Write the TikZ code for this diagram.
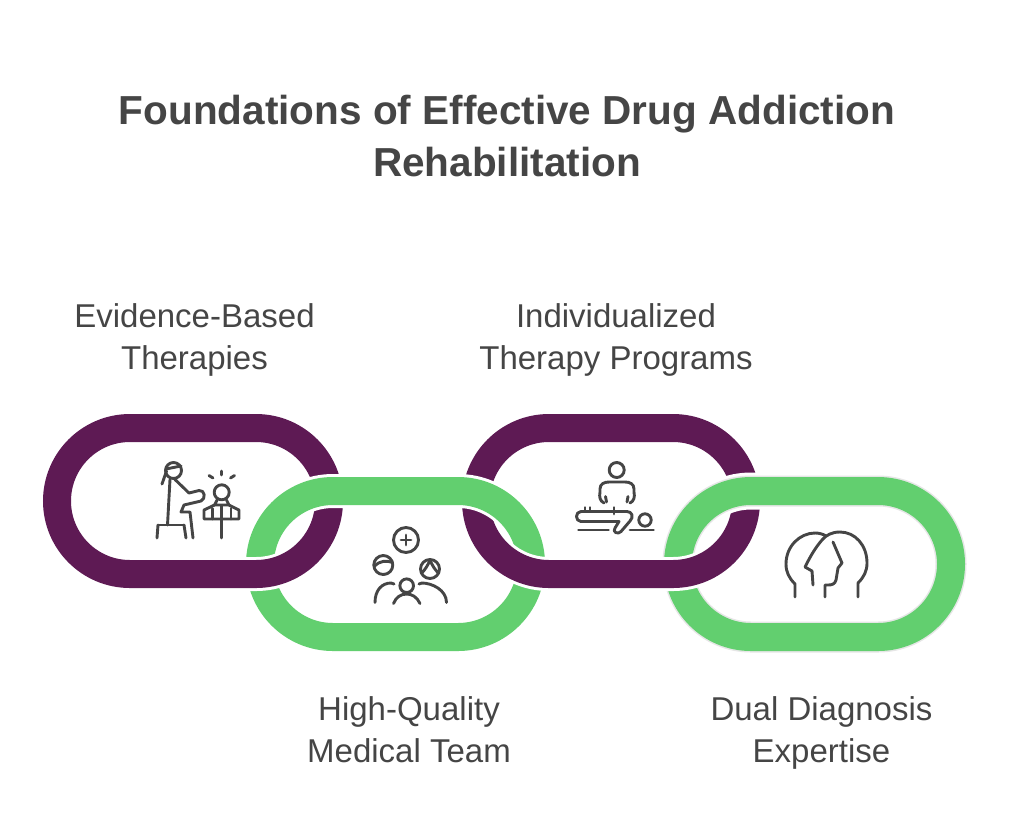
\documentclass[tikz,border=0pt]{standalone}
\usepackage{fontspec}
\setmainfont{Liberation Sans}
\usepackage{tikz}
\usepackage{xcolor}
\definecolor{chain-purple}{HTML}{5E1A54}
\definecolor{chain-green}{HTML}{62CF6F}
\definecolor{ink}{HTML}{454545}
\definecolor{rim}{HTML}{E6E6E6}
\tikzset{
    link-purple/.style = {draw=chain-purple, line width=28pt, rounded corners=73pt},
    link-green/.style = {draw=chain-green, line width=28pt, rounded corners=73pt},
    link-gap/.style = {draw=white, line width=34pt, rounded corners=73pt},
    link-rim/.style = {draw=rim, line width=31pt, rounded corners=73pt},
    icon-line/.style = {draw=ink, line width=2.9pt, line cap=round, line join=round},
    title-text/.style = {anchor=north, inner sep=0pt, align=center, text=ink, font=\fontsize{40.5}{52}\selectfont\bfseries},
    label-text/.style = {anchor=north, inner sep=0pt, align=center, text=ink, font=\fontsize{33}{42}\selectfont},
}

\begin{document}
\begin{tikzpicture}[x=1pt, y=-1pt]
\useasboundingbox (0,0) rectangle (1024,815);

\node[title-text] (title) at (507,95) {Foundations of Effective Drug Addiction\\Rehabilitation};

% chain links, purple first, green over the top bands
\draw[link-purple] (57,428) rectangle (329,574);
\draw[link-purple] (476,428) rectangle (746,574);
\draw[link-gap] (260,491) rectangle (531,637);
\draw[link-green] (260,491) rectangle (531,637);
\draw[link-gap, line width=37pt] (678,491) rectangle (951,637);
\draw[link-rim] (678,491) rectangle (951,637);
\draw[link-green] (678,491) rectangle (951,637);
% purple bottom bands back over the green sides
\begin{scope}
\clip (0,527) rectangle (1024,612);
\draw[link-gap] (57,428) rectangle (329,574);
\draw[link-purple] (57,428) rectangle (329,574);
\draw[link-gap] (476,428) rectangle (746,574);
\draw[link-purple] (476,428) rectangle (746,574);
\end{scope}

% icon: therapist and child
\draw[icon-line] (173.5,470.5) circle (8);
\draw[icon-line] (166,469) -- (181,466);
\draw[icon-line] (166.5,471) -- (162,484);
\draw[icon-line] (170,479.5) -- (167.5,525);
\draw[icon-line] (175,479.5) -- (189,493) -- (199,490.5) .. controls (205,489.5) and (206,499) .. (201,501) -- (184,505) -- (181,512) -- (190,512) -- (193,538);
\draw[icon-line] (158,525) -- (184,525);
\draw[icon-line] (158,525) -- (157,538);
\draw[icon-line] (184,525) -- (186,538);
\draw[icon-line] (221.7,492.3) circle (7.5);
\draw[icon-line] (221.7,471) -- (221.7,475);
\draw[icon-line] (209,475.5) -- (213,478);
\draw[icon-line] (234.5,475.5) -- (230.5,478);
\draw[icon-line] (217,500) -- (214.5,505) -- (229,505) -- (226.5,500);
\draw[icon-line] (214.5,505) -- (204,510) -- (204,519) -- (239,519) -- (239,510) -- (229,505);
\draw[icon-line] (212.5,508.5) -- (212.5,519);
\draw[icon-line] (221.7,506) -- (221.7,538);
\draw[icon-line] (231,508.5) -- (231,519);

% icon: medical team
\draw[icon-line] (406,540) circle (12.5);
\draw[icon-line] (401,540) -- (411,540);
\draw[icon-line] (406,535) -- (406,545);
\draw[icon-line] (383.3,565) circle (9.5);
\draw[icon-line] (374.5,566) .. controls (379,561) and (387,560) .. (392.5,562.5);
\draw[icon-line] (375,602.5) .. controls (375,590) and (382,583) .. (391,583) -- (394,584);
\draw[icon-line] (430,569) circle (9.5);
\draw[icon-line] (421.5,573) .. controls (425,570) and (428,565) .. (430,560) .. controls (432,565) and (435,570) .. (438.5,573);
\draw[icon-line] (419,584) -- (422,583) .. controls (432,583) and (446.5,590) .. (446.5,602.5);
\draw[icon-line] (406.7,585.7) circle (6.8);
\draw[icon-line] (393.5,603.5) .. controls (396,597) and (401,594) .. (406.7,594) .. controls (412,594) and (417,597) .. (420,603.5);

% icon: massage therapy
\draw[icon-line] (616.7,470) circle (7.5);
\draw[icon-line] (604,503) .. controls (600,501) and (599,497) .. (600,492) -- (600,489) .. controls (600,484) and (604,482) .. (609,482) -- (625,482) .. controls (630,482) and (634,484) .. (634,489) -- (634,492) .. controls (635,497) and (634,501) .. (630,503);
\draw[icon-line] (605.5,496.5) -- (606.5,502);
\draw[icon-line] (628,496.5) -- (627,502);
\draw[icon-line] (581,511.5) -- (627,511.5) .. controls (632,511.5) and (634,517) .. (630,521) -- (621,531.5) .. controls (618,535) and (612,532) .. (615,528) -- (619,521.5) -- (581,521.5) .. controls (575,521.5) and (575,511.5) .. (581,511.5);
\draw[icon-line] (585,507.5) -- (585,511.5);
\draw[icon-line] (590,507.5) -- (590,511.5);
\draw[icon-line] (614,507.5) -- (614,514);
\draw[icon-line] (645,520) circle (6.2);
\draw[icon-line] (578.5,530) -- (608.5,530);
\draw[icon-line] (630,530) -- (653.5,530);

% icon: two heads
\draw[icon-line] (795,597) -- (795,584) .. controls (789,578) and (786,572) .. (786,564) .. controls (786,546) and (800,533) .. (815,533) .. controls (819,533) and (823,534) .. (826,536);
\draw[icon-line] (858,597) -- (858,583) .. controls (864,577) and (867,571) .. (867,563) .. controls (867,545) and (855,532) .. (840,532) .. controls (832,532) and (826,535) .. (822,540) .. controls (815,548) and (810,557) .. (805,567) -- (812,571) -- (813,585);
\draw[icon-line] (833,542) -- (842,563) -- (838,568) -- (836,580) .. controls (835,584) and (832,585) .. (828,585) -- (825,585) -- (825,597);

% labels
\node[label-text] (evidence) at (194.5,303) {Evidence-Based\\Therapies};
\node[label-text] (individual) at (616,303) {Individualized\\Therapy Programs};
\node[label-text] (quality) at (409,696) {High-Quality\\Medical Team};
\node[label-text] (dual) at (821.5,696) {Dual Diagnosis\\Expertise};
\end{tikzpicture}
\end{document}
